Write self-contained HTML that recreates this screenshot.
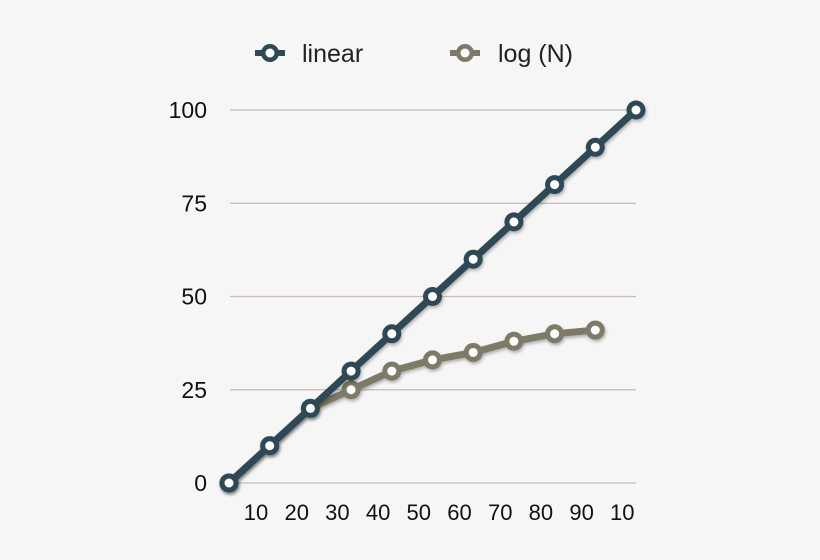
<!DOCTYPE html>
<html><head><meta charset="utf-8"><style>
body{margin:0;background:#f6f6f6;}
svg{display:block;font-family:"Liberation Sans",sans-serif;}
</style></head><body>
<svg id="c" width="820" height="560" viewBox="0 0 820 560">
<defs><filter id="sh" x="-20%" y="-20%" width="140%" height="140%"><feDropShadow dx="1" dy="2" stdDeviation="1.5" flood-color="#000" flood-opacity="0.3"/></filter></defs>
<g id="grid"></g>
<g id="ylab"></g>
<g id="xlab"></g>
<g id="series"></g>
<g>
 <g>
  <line x1="255" y1="53" x2="285" y2="53" stroke="#2f4a55" stroke-width="6"/>
  <circle cx="270" cy="53" r="9" fill="#2f4a55"/><circle cx="270" cy="53" r="4.5" fill="#fff"/>
  <text x="302" y="62" font-size="25" fill="#222">linear</text>
 </g>
 <g>
  <line x1="450" y1="53" x2="480" y2="53" stroke="#7d7a68" stroke-width="6"/>
  <circle cx="465" cy="53" r="9" fill="#7d7a68"/><circle cx="465" cy="53" r="4.5" fill="#fff"/>
  <text x="498" y="62" font-size="25" fill="#222">log (N)</text>
 </g>
</g>
</svg>
<script>
const xIndex=[0,1,2,3,4,5,6,7,8,9,10];
const linearValues=[0,10,20,30,40,50,60,70,80,90,100];
const logValues=[0,10,20,25,30,33,35,38,40,41];
const yTicks=[0,25,50,75,100];
const xTickLabels=["10","20","30","40","50","60","70","80","90","10"];
const NS="http://www.w3.org/2000/svg";
const X=i=>229+i*40.7, Y=v=>483-v*3.73;
function mk(t,a,p){const e=document.createElementNS(NS,t);for(const k in a)e.setAttribute(k,a[k]);p.appendChild(e);return e;}
const grid=document.getElementById('grid'),yl=document.getElementById('ylab'),xl=document.getElementById('xlab'),ser=document.getElementById('series');
yTicks.forEach(v=>{
 const l=mk('line',{x1:230,x2:636,y1:Y(v),y2:Y(v),stroke:'#cdb9b0','stroke-width':1.2},grid);
 
 
 const t=mk('text',{x:207,y:Y(v)+8,'text-anchor':'end','font-size':23,fill:'#111'},yl);t.textContent=v;
 
 
});
xTickLabels.forEach((s,i)=>{
 const t=mk('text',{x:X(i)+27,y:520,'text-anchor':'middle','font-size':22,fill:'#111'},xl);t.textContent=s;
 
 
});
function draw(vals,col,name){
 const g=mk('g',{filter:'url(#sh)'},ser);
 
 
 const pl=mk('polyline',{points:vals.map((v,i)=>X(xIndex[i])+','+Y(v)).join(' '),fill:'none',stroke:col,'stroke-width':7,'stroke-linejoin':'round'},g);
 
 
 vals.forEach((v,i)=>{
  const c=mk('circle',{cx:X(xIndex[i]),cy:Y(v),r:9.5,fill:col},g);
  
  
  mk('circle',{cx:X(xIndex[i]),cy:Y(v),r:4.5,fill:'#fff'},g);
 });
}
draw(logValues,'#7d7a68','log');
draw(linearValues,'#2f4a55','linear');
</script>
</body></html>
